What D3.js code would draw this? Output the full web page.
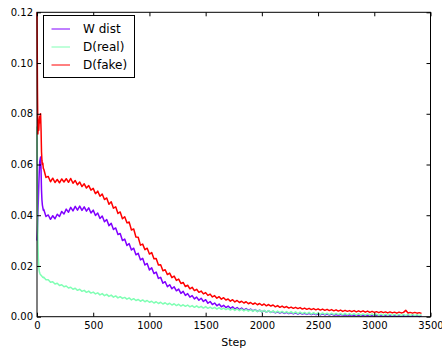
<!DOCTYPE html>
<html><head><meta charset="utf-8">
<script src="https://cdn.jsdelivr.net/npm/d3@7"></script>
<style>
body{margin:0;background:#fff}
svg{display:block}
text{font-family:"DejaVu Sans",sans-serif;fill:#000}
</style>
</head><body>
<svg id="chart" width="442" height="351"></svg>
<script>
// ---- data ----
const earlySteps = [0, 4, 8, 12, 16, 20, 24, 28, 32, 36, 40, 44, 48, 52, 56];
const regularSteps = d3.range(60, 3421, 20);
const steps = earlySteps.concat(regularSteps);

const wDist = [
  0.0300, 0.0340, 0.0400, 0.0460, 0.0520, 0.0570, 0.0610, 0.0620, 0.0630, 0.0580, 0.0500, 0.0460, 0.0440, 0.0430, 0.0420,
  0.0423, 0.0395, 0.0401, 0.0384, 0.0398, 0.0386, 0.0404, 0.0395, 0.0415, 0.0405,
  0.0424, 0.0412, 0.0431, 0.0417, 0.0435, 0.0420, 0.0436, 0.0419, 0.0433, 0.0416,
  0.0429, 0.0409, 0.0420, 0.0399, 0.0409, 0.0387, 0.0397, 0.0374, 0.0383, 0.0359,
  0.0368, 0.0344, 0.0350, 0.0324, 0.0328, 0.0300, 0.0306, 0.0281, 0.0288, 0.0263,
  0.0270, 0.0244, 0.0250, 0.0224, 0.0230, 0.0204, 0.0210, 0.0184, 0.0193, 0.0170,
  0.0176, 0.0151, 0.0155, 0.0132, 0.0138, 0.0118, 0.0126, 0.0110, 0.0118, 0.0102,
  0.0109, 0.0092, 0.0100, 0.0084, 0.0091, 0.0077, 0.0083, 0.0070, 0.0077, 0.0065,
  0.0073, 0.0060, 0.0067, 0.0053, 0.0060, 0.0048, 0.0054, 0.0043, 0.0050, 0.0039,
  0.0045, 0.0036, 0.0042, 0.0033, 0.0039, 0.0030, 0.0036, 0.0028, 0.0034, 0.0026,
  0.0032, 0.0025, 0.0030, 0.0023, 0.0028, 0.0021, 0.0026, 0.0019, 0.0024, 0.0018,
  0.0023, 0.0017, 0.0021, 0.0015, 0.0019, 0.0014, 0.0018, 0.0013, 0.0017, 0.0012,
  0.0016, 0.0011, 0.0015, 0.0010, 0.0014, 0.0010, 0.0013, 0.0009, 0.0013, 0.0008,
  0.0012, 0.0008, 0.0011, 0.0007, 0.0011, 0.0007, 0.0010, 0.0006, 0.0010, 0.0006,
  0.0009, 0.0006, 0.0009, 0.0005, 0.0008, 0.0005, 0.0008, 0.0005, 0.0007, 0.0004,
  0.0007, 0.0004, 0.0007, 0.0004, 0.0006, 0.0003, 0.0006, 0.0003, 0.0006, 0.0003,
  0.0005, 0.0003, 0.0005, 0.0002, 0.0005, 0.0002, 0.0005, 0.0002, 0.0004, 0.0002,
  0.0004, 0.0002, 0.0004, 0.0002, 0.0004, 0.0002, 0.0004, 0.0001, 0.0003
];

const dReal = [
  0.0750, 0.0450, 0.0300, 0.0230, 0.0195, 0.0180, 0.0172, 0.0168, 0.0165, 0.0163, 0.0161, 0.0159, 0.0157, 0.0155, 0.0154,
  0.0156, 0.0146, 0.0146, 0.0136, 0.0138, 0.0129, 0.0132, 0.0123, 0.0126, 0.0118,
  0.0121, 0.0113, 0.0116, 0.0108, 0.0112, 0.0104, 0.0108, 0.0100, 0.0104, 0.0096,
  0.0101, 0.0093, 0.0097, 0.0090, 0.0094, 0.0086, 0.0091, 0.0083, 0.0088, 0.0080,
  0.0085, 0.0077, 0.0082, 0.0074, 0.0079, 0.0072, 0.0076, 0.0069, 0.0074, 0.0066,
  0.0071, 0.0064, 0.0068, 0.0061, 0.0066, 0.0059, 0.0064, 0.0057, 0.0061, 0.0054,
  0.0059, 0.0052, 0.0057, 0.0050, 0.0055, 0.0048, 0.0053, 0.0046, 0.0051, 0.0044,
  0.0049, 0.0042, 0.0047, 0.0041, 0.0046, 0.0039, 0.0044, 0.0037, 0.0043, 0.0036,
  0.0041, 0.0034, 0.0040, 0.0033, 0.0038, 0.0032, 0.0037, 0.0030, 0.0036, 0.0029,
  0.0034, 0.0028, 0.0033, 0.0026, 0.0032, 0.0025, 0.0031, 0.0024, 0.0030, 0.0023,
  0.0029, 0.0022, 0.0028, 0.0021, 0.0027, 0.0020, 0.0026, 0.0019, 0.0025, 0.0018,
  0.0024, 0.0017, 0.0023, 0.0016, 0.0022, 0.0016, 0.0021, 0.0015, 0.0020, 0.0014,
  0.0020, 0.0013, 0.0019, 0.0012, 0.0018, 0.0012, 0.0017, 0.0011, 0.0017, 0.0010,
  0.0016, 0.0010, 0.0015, 0.0009, 0.0015, 0.0009, 0.0014, 0.0008, 0.0014, 0.0008,
  0.0013, 0.0008, 0.0013, 0.0007, 0.0013, 0.0007, 0.0012, 0.0007, 0.0012, 0.0006,
  0.0012, 0.0006, 0.0011, 0.0006, 0.0011, 0.0006, 0.0011, 0.0005, 0.0010, 0.0005,
  0.0010, 0.0005, 0.0010, 0.0005, 0.0010, 0.0005, 0.0009, 0.0005, 0.0009, 0.0004,
  0.0009, 0.0004, 0.0009, 0.0004, 0.0009, 0.0004, 0.0008, 0.0004, 0.0008
];

const dFake = [
  0.1200, 0.0900, 0.0720, 0.0760, 0.0735, 0.0775, 0.0790, 0.0765, 0.0800, 0.0740, 0.0650, 0.0615, 0.0600, 0.0605, 0.0585,
  0.0582, 0.0549, 0.0553, 0.0532, 0.0546, 0.0529, 0.0541, 0.0528, 0.0543, 0.0531,
  0.0544, 0.0530, 0.0545, 0.0526, 0.0537, 0.0520, 0.0531, 0.0513, 0.0524, 0.0507,
  0.0517, 0.0499, 0.0506, 0.0485, 0.0495, 0.0475, 0.0484, 0.0462, 0.0468, 0.0443,
  0.0453, 0.0428, 0.0433, 0.0407, 0.0413, 0.0386, 0.0394, 0.0370, 0.0373, 0.0342,
  0.0346, 0.0314, 0.0313, 0.0282, 0.0286, 0.0264, 0.0270, 0.0247, 0.0253, 0.0228,
  0.0229, 0.0204, 0.0205, 0.0181, 0.0185, 0.0166, 0.0172, 0.0154, 0.0160, 0.0143,
  0.0148, 0.0131, 0.0135, 0.0119, 0.0124, 0.0110, 0.0116, 0.0103, 0.0108, 0.0096,
  0.0101, 0.0090, 0.0095, 0.0084, 0.0089, 0.0078, 0.0083, 0.0073, 0.0079, 0.0069,
  0.0075, 0.0066, 0.0070, 0.0061, 0.0067, 0.0058, 0.0064, 0.0056, 0.0061, 0.0054,
  0.0059, 0.0051, 0.0056, 0.0049, 0.0054, 0.0047, 0.0052, 0.0045, 0.0050, 0.0043,
  0.0048, 0.0042, 0.0046, 0.0039, 0.0044, 0.0037, 0.0042, 0.0036, 0.0040, 0.0034,
  0.0038, 0.0033, 0.0037, 0.0032, 0.0036, 0.0030, 0.0034, 0.0029, 0.0033, 0.0028,
  0.0032, 0.0027, 0.0031, 0.0026, 0.0030, 0.0025, 0.0029, 0.0024, 0.0028, 0.0023,
  0.0027, 0.0022, 0.0026, 0.0021, 0.0025, 0.0021, 0.0024, 0.0020, 0.0024, 0.0019,
  0.0023, 0.0019, 0.0023, 0.0018, 0.0022, 0.0017, 0.0021, 0.0017, 0.0020, 0.0016,
  0.0020, 0.0016, 0.0019, 0.0015, 0.0019, 0.0015, 0.0018, 0.0014, 0.0018, 0.0015,
  0.0017, 0.0025, 0.0015, 0.0017, 0.0014, 0.0017, 0.0014, 0.0016, 0.0013
];

const seriesNames = ["W dist", "D(real)", "D(fake)"];
const xTicks = [0, 500, 1000, 1500, 2000, 2500, 3000, 3500];
const yTicks = [0, 0.02, 0.04, 0.06, 0.08, 0.10, 0.12];
const xLabel = "Step";

// ---- styles / layout ----
const colors = ["#8000ff", "#80ffb4", "#ff0000"];
const plot = {left: 37, right: 430.5, top: 12.3, bottom: 316.7};

const svg = d3.select("#chart");
svg.append("rect").attr("width", 442).attr("height", 351).attr("fill", "#fff");

const xScale = d3.scaleLinear().domain([0, 3500]).range([plot.left, plot.right]);
const yScale = d3.scaleLinear().domain([0, 0.12]).range([plot.bottom, plot.top]);

const seriesData = [wDist, dReal, dFake];
const lineGen = d3.line().x(d => xScale(d[0])).y(d => yScale(d[1]));

seriesData.forEach((vals, i) => {
  svg.append("path")
    .datum(steps.map((s, j) => [s, vals[j]]))
    .attr("fill", "none")
    .attr("stroke", colors[i])
    .attr("stroke-width", 1.5)
    .attr("stroke-linejoin", "round")
    .attr("d", lineGen);
});

// axes
const fmt = d3.format(".2f");
const axB = svg.append("g").attr("transform", `translate(0,${plot.bottom})`)
  .call(d3.axisBottom(xScale).tickValues(xTicks).tickSizeInner(-4).tickSizeOuter(0).tickPadding(5).tickFormat(d3.format("d")));
const axT = svg.append("g").attr("transform", `translate(0,${plot.top})`)
  .call(d3.axisTop(xScale).tickValues(xTicks).tickSizeInner(-4).tickSizeOuter(0).tickFormat(""));
const axL = svg.append("g").attr("transform", `translate(${plot.left},0)`)
  .call(d3.axisLeft(yScale).tickValues(yTicks).tickSizeInner(-4).tickSizeOuter(0).tickPadding(4).tickFormat(fmt));
const axR = svg.append("g").attr("transform", `translate(${plot.right},0)`)
  .call(d3.axisRight(yScale).tickValues(yTicks).tickSizeInner(-4).tickSizeOuter(0).tickFormat(""));

[axB, axT, axL, axR].forEach(g => {
  g.select(".domain").remove();
  g.selectAll(".tick line").attr("stroke", "#000").attr("stroke-width", 1);
  g.selectAll("text").attr("font-size", 10).attr("font-family", "DejaVu Sans").attr("fill", "#000");
});

// frame
svg.append("rect")
  .attr("x", plot.left).attr("y", plot.top)
  .attr("width", plot.right - plot.left).attr("height", plot.bottom - plot.top)
  .attr("fill", "none").attr("stroke", "#000").attr("stroke-width", 1);

// x label
svg.append("text").attr("x", (plot.left + plot.right) / 2).attr("y", 346)
  .attr("text-anchor", "middle").attr("font-size", 11).text(xLabel);

// legend
const lg = svg.append("g");
lg.append("rect").attr("x", 43.5).attr("y", 15.5).attr("width", 91).attr("height", 62)
  .attr("fill", "#fff").attr("stroke", "#000").attr("stroke-width", 1);
const rowY = [29, 47, 65];
seriesNames.forEach((n, i) => {
  lg.append("line").attr("x1", 51.5).attr("x2", 70).attr("y1", rowY[i]).attr("y2", rowY[i])
    .attr("stroke", colors[i]).attr("stroke-width", 1);
  lg.append("text").attr("x", 83).attr("y", rowY[i]).attr("dy", "0.36em")
    .attr("font-size", 12).text(n);
});
</script>
</body></html>
